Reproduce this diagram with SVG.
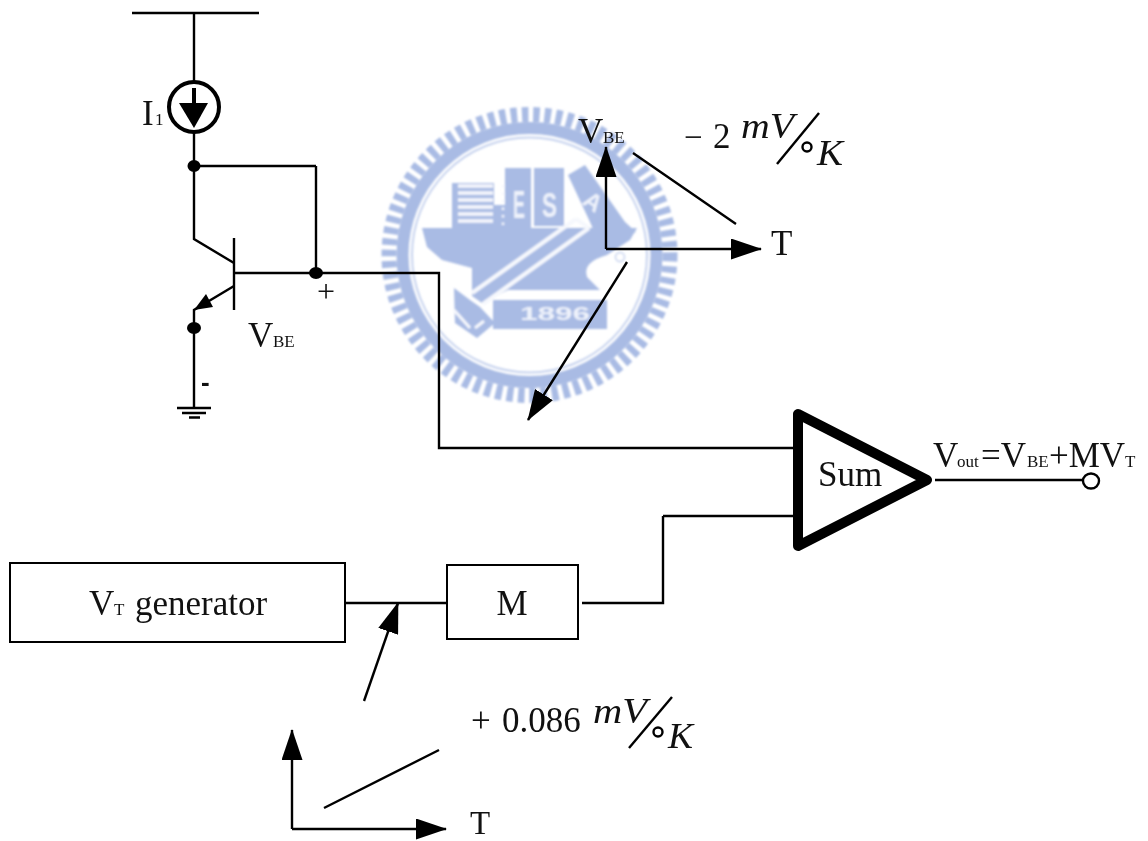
<svg xmlns="http://www.w3.org/2000/svg" width="1148" height="841" viewBox="0 0 1148 841">
<style>
text{font-family:"Liberation Serif","Times New Roman",serif;fill:#111}
.w{stroke:#000;stroke-width:2.4;fill:none}
.t{font-size:35px}.s{font-size:17px}
.i{font-style:italic;font-size:36px}
.wm{fill:#a9bbe4}
.cut{stroke:#f6f8fd;fill:none}
.wt{font-family:"Liberation Sans",Arial,sans-serif;fill:#eef2fb;font-weight:bold}
</style>
<defs>
<marker id="a" markerUnits="userSpaceOnUse" markerWidth="31" markerHeight="21" refX="30" refY="10.5" orient="auto"><path d="M0 0L31 10.5L0 21z" fill="#000"/></marker>
<filter id="soft" x="-5%" y="-5%" width="110%" height="110%"><feGaussianBlur stdDeviation="0.8"/></filter>
</defs>
<rect width="1148" height="841" fill="#fff"/>
<g id="watermark" filter="url(#soft)">
<circle cx="529.5" cy="255" r="140.5" fill="none" stroke="#a9bbe4" stroke-width="15" stroke-dasharray="6.5 4.78"/>
<circle cx="529.5" cy="255" r="127" fill="none" stroke="#a9bbe4" stroke-width="12"/>
<circle cx="529.5" cy="255" r="117.5" fill="none" stroke="#c6d2ee" stroke-width="2"/>
<path class="wm" d="M422 228H637L630 240L607 255Q582 262 587 277L600 290H508L482 303L472 296V268L442 260L427 247z"/>
<rect class="wm" x="452" y="183" width="42" height="45"/>
<path class="cut" stroke-width="3.5" d="M458 186H493M458 193H493M458 200H493M458 207H493M458 214H493M458 221H493"/>
<path class="wm" d="M494 205H505V228H494z"/>
<path class="cut" stroke-width="2.5" stroke-dasharray="2.5 5" d="M503 185V226"/>
<rect class="wm" x="505" y="168" width="26" height="60"/>
<rect class="wm" x="534" y="168" width="30" height="58"/>
<path class="wm" d="M568 175L585 165L625 222L636 232L600 245L590 222z"/>
<text class="wt" x="513" y="218" font-size="39" textLength="12" lengthAdjust="spacingAndGlyphs" font-weight="normal">E</text>
<text class="wt" x="542" y="217" font-size="35" textLength="15" lengthAdjust="spacingAndGlyphs" font-weight="normal">S</text>
<text class="wt" x="593" y="210" font-size="24" text-anchor="middle" transform="rotate(35 593 202)">A</text>
<path d="M565 193L582 217L565 224z" fill="#fff"/>
<path d="M576 219L472 293M589 228L483 304M576 219L589 228" class="cut" stroke-width="4"/>
<path class="wm" d="M454 288L470 300L480 307L495 323L477 338L455 323z"/>
<path class="cut" stroke-width="3" d="M454 310L470 328M475 328L484 321"/>
<rect class="wm" x="493" y="300" width="114" height="29"/>
<text class="wt" x="520" y="320" font-size="18" textLength="70" lengthAdjust="spacingAndGlyphs">1896</text>
<circle cx="620" cy="257" r="4.5" fill="#fff" stroke="#c6d2ee" stroke-width="1.5"/>
</g>
<g id="connectors">
<path class="w" d="M132 13H259M194 13V85M194 130V239L234 263M316 166H194M316 166V273M235 273H439V448H795M194 328V310L234 286M194 328V408M663 516H795M663 516V603H582M346 603H447M935 480H1084"/>
<path class="w" d="M633 153L736 224M324 808L439 750"/>
<path class="w" d="M627 262L528 420" marker-end="url(#a)"/>
<path class="w" d="M606 249V147" marker-end="url(#a)"/>
<path class="w" d="M606 249H761" marker-end="url(#a)"/>
<path class="w" d="M292 829V730" marker-end="url(#a)"/>
<path class="w" d="M292 829H446" marker-end="url(#a)"/>
<path class="w" d="M364 701L398 603" marker-end="url(#a)"/>
<path class="w" d="M177 408H211M182 413H206M189 417.500H200"/>
</g>
<g id="source">
<circle cx="194" cy="107" r="25" fill="#fff" stroke="#000" stroke-width="4"/>
<path d="M194 88V110" stroke="#000" stroke-width="4"/>
<path d="M179 103H208L194 128z" fill="#000"/>
<text class="t" x="142" y="125">I</text><text class="s" x="155" y="125">1</text>
</g>
<g id="transistor">
<path d="M234 238V310" stroke="#000" stroke-width="2.4"/>
<path d="M194 310L206 294L213 307z" fill="#000"/>
<text class="t" x="248" y="347">V</text><text class="s" x="273" y="347">BE</text>
<text x="317" y="302" font-size="32">+</text>
<text x="201" y="391" font-size="26" font-weight="bold" style="font-family:'Liberation Sans',sans-serif">-</text>
</g>
<g id="dots">
<ellipse cx="194" cy="166" rx="6.500" ry="6"/><ellipse cx="316" cy="273" rx="7" ry="6"/><ellipse cx="194" cy="328" rx="7" ry="6"/>
</g>
<g id="graph-top">
<text class="t" x="578" y="143">V</text><text class="s" x="603" y="143">BE</text>
<text x="684" y="148" font-size="33">−</text><text x="713" y="148" font-size="35">2</text>
<text class="i" x="741" y="138" textLength="53" lengthAdjust="spacingAndGlyphs">mV</text>
<path class="w" d="M777 164L819 113"/>
<circle cx="807" cy="147" r="4.500" fill="none" stroke="#000" stroke-width="2.400"/>
<text class="i" x="817" y="165" textLength="26" lengthAdjust="spacingAndGlyphs">K</text>
<text class="t" x="771" y="255">T</text>
</g>
<g id="sum">
<path d="M798 414V546L927 480z" fill="#fff" stroke="#000" stroke-width="10" stroke-linejoin="round"/>
<text class="t" x="818" y="486">Sum</text>
</g>
<g id="output">
<ellipse cx="1091" cy="481" rx="8" ry="7.500" fill="#fff" stroke="#000" stroke-width="2.400"/>
<text class="t" x="933" y="467">V</text><text class="s" x="957" y="467">out</text><text class="t" x="981" y="467">=V</text><text class="s" x="1027" y="467">BE</text><text class="t" x="1049" y="467">+MV</text><text class="s" x="1125" y="467">T</text>
</g>
<g id="vt-generator">
<rect x="10" y="563" width="335" height="79" fill="#fff" stroke="#000" stroke-width="2"/>
<text class="t" x="89" y="615">V</text><text class="s" x="114" y="615">T</text><text class="t" x="135" y="615">generator</text>
</g>
<g id="m-block">
<rect x="447" y="565" width="131" height="74" fill="#fff" stroke="#000" stroke-width="2"/>
<text class="t" x="512" y="615" text-anchor="middle">M</text>
</g>
<g id="graph-bottom">
<text x="471" y="732" font-size="35">+</text><text x="502" y="732" font-size="35">0.086</text>
<text class="i" x="593" y="723" textLength="54" lengthAdjust="spacingAndGlyphs">mV</text>
<path class="w" d="M629 748L672 697"/>
<circle cx="658" cy="732" r="4.500" fill="none" stroke="#000" stroke-width="2.400"/>
<text class="i" x="668" y="748" textLength="25" lengthAdjust="spacingAndGlyphs">K</text>
<text x="470" y="833.500" font-size="33">T</text>
</g>
</svg>
